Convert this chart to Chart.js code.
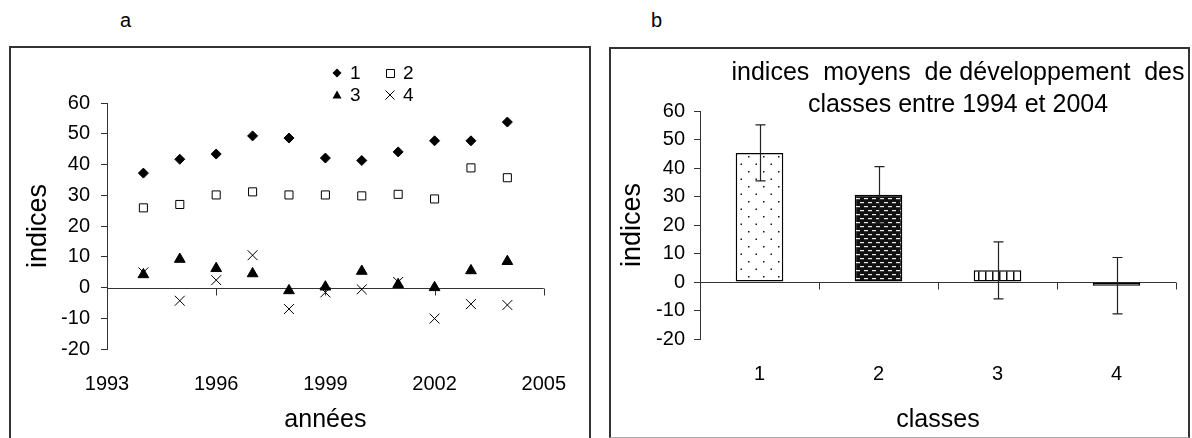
<!DOCTYPE html>
<html>
<head>
<meta charset="utf-8">
<script src="https://cdn.jsdelivr.net/npm/chart.js@4.4.1/dist/chart.umd.min.js"></script>
<style>
  body { margin: 0; background: #fff; width: 1192px; height: 438px; overflow: hidden; position: relative;
         font-family: 'Liberation Sans', Arial, sans-serif; }
  .frame { position: absolute; border: 2px solid #333; box-sizing: border-box; }
  #frameA { left: 9px; top: 46px; width: 582px; height: 400px; }
  #frameB { left: 609px; top: 47px; width: 581px; height: 391px; border-bottom: 1px solid #aaa; }
  .tag { position: absolute; font-size: 20px; line-height: 20px; top: 10px; }
  canvas { position: absolute; }
</style>
</head>
<body>
<div class="tag" style="left:120px">a</div>
<div class="tag" style="left:651px">b</div>
<div class="frame" id="frameA"></div>
<div class="frame" id="frameB"></div>
<canvas id="chartA" width="578" height="390" style="left:11px;top:48px"></canvas>
<canvas id="chartB" width="576" height="389" style="left:611px;top:49px"></canvas>

<script>
// --- data ---
const years = [1994, 1995, 1996, 1997, 1998, 1999, 2000, 2001, 2002, 2003, 2004];
const class1 = [37.2, 41.7, 43.4, 49.3, 48.6, 42.1, 41.3, 44.1, 47.7, 47.7, 53.8];
const class2 = [25.9, 27.0, 30.1, 31.1, 30.1, 30.1, 29.8, 30.3, 28.8, 38.9, 35.7];
const class3 = [4.2, 9.2, 6.2, 4.5, -1.0, 0.2, 5.3, 1.0, 0.0, 5.5, 8.5];
const class4 = [4.9, -4.3, 2.4, 10.5, -7.0, -1.6, -0.6, 1.8, -10.1, -5.4, -5.7];

const classLabels = ['1', '2', '3', '4'];
const meanIndices = [45.3, 30.6, 4.1, -1.3];
const meanErrors = [9.8, 9.9, 10.0, 9.9];

const titleLines = ['indices  moyens  de développement  des', 'classes entre 1994 et 2004'];

const FONT = "'Liberation Sans', Arial, sans-serif";
Chart.defaults.font.family = FONT;
Chart.defaults.color = '#000';
Chart.defaults.animation = false;
Chart.defaults.plugins.tooltip.enabled = false;
Chart.defaults.plugins.legend.display = false;

const toPoints = arr => arr.map((v, i) => ({ x: years[i], y: v }));

// fill patterns for the bars
function makePattern(kind) {
  const c = document.createElement('canvas');
  const g = c.getContext('2d');
  if (kind === 'dots') {
    c.width = 15; c.height = 15;
    g.fillStyle = '#fff'; g.fillRect(0, 0, 15, 15);
    g.fillStyle = '#111';
    g.fillRect(2, 2, 1.5, 1.5);
    g.fillRect(9.5, 9.5, 1.5, 1.5);
  } else if (kind === 'dark') {
    c.width = 8; c.height = 8;
    g.fillStyle = '#111'; g.fillRect(0, 0, 8, 8);
    g.fillStyle = '#eee';
    g.fillRect(1, 1, 4, 1.2);
    g.fillRect(5, 5, 4, 1.2);
    g.fillRect(-3, 5, 4, 1.2);
  } else if (kind === 'vlines') {
    c.width = 7; c.height = 4;
    g.fillStyle = '#fff'; g.fillRect(0, 0, 7, 4);
    g.fillStyle = '#111'; g.fillRect(3, 0, 1.5, 4);
  } else {
    c.width = 7; c.height = 4;
    g.fillStyle = '#fff'; g.fillRect(0, 0, 7, 4);
    g.fillStyle = '#444'; g.fillRect(2, 1, 2, 1);
  }
  return g.createPattern(c, 'repeat');
}

// horizontal axis drawn through y = 0, with tick marks hanging below
const zeroAxis = {
  id: 'zeroAxis',
  beforeDatasetsDraw(chart) {
    const { ctx, chartArea, scales: { x, y } } = chart;
    const y0 = Math.round(y.getPixelForValue(0)) + 0.5;
    let marks;
    if (x.type === 'category') {
      const half = (x.getPixelForValue(1) - x.getPixelForValue(0)) / 2;
      marks = [];
      for (let i = 0; i <= x.getLabels().length; i++) marks.push(x.getPixelForValue(i) - half);
    } else {
      marks = x.ticks.map(t => x.getPixelForValue(t.value));
    }
    ctx.save();
    ctx.strokeStyle = '#333';
    ctx.lineWidth = 1;
    ctx.beginPath();
    ctx.moveTo(chartArea.left, y0);
    ctx.lineTo(chartArea.right, y0);
    marks.forEach(px => {
      const xp = Math.round(px) + 0.5;
      ctx.moveTo(xp, y0);
      ctx.lineTo(xp, y0 + 7);
    });
    ctx.stroke();
    ctx.restore();
  }
};

// legend in two columns, like the original
function drawMarker(ctx, style, x, y, s) {
  ctx.beginPath();
  ctx.lineWidth = 1;
  ctx.strokeStyle = '#000';
  ctx.fillStyle = '#000';
  if (style === 'rectRot') {
    ctx.moveTo(x, y - s); ctx.lineTo(x + s, y); ctx.lineTo(x, y + s); ctx.lineTo(x - s, y);
    ctx.closePath(); ctx.fill();
  } else if (style === 'rect') {
    ctx.fillStyle = '#fff';
    ctx.rect(Math.round(x - s) + 0.5, Math.round(y - s) + 0.5, 2 * s - 1, 2 * s - 1);
    ctx.fill(); ctx.stroke();
  } else if (style === 'triangle') {
    ctx.moveTo(x, y - s); ctx.lineTo(x + s, y + s * 0.8); ctx.lineTo(x - s, y + s * 0.8);
    ctx.closePath(); ctx.fill();
  } else {
    ctx.moveTo(x - s, y - s); ctx.lineTo(x + s, y + s);
    ctx.moveTo(x + s, y - s); ctx.lineTo(x - s, y + s);
    ctx.stroke();
  }
}

const markerLegend = {
  id: 'markerLegend',
  afterDraw(chart, args, opts) {
    const { ctx } = chart;
    ctx.save();
    chart.data.datasets.forEach((ds, i) => {
      const mx = opts.x + (i % 2) * opts.colGap;
      const my = opts.y + Math.floor(i / 2) * opts.rowGap;
      drawMarker(ctx, ds.pointStyle, mx, my, opts.size);
      ctx.font = opts.fontSize + 'px ' + FONT;
      ctx.textBaseline = 'middle';
      ctx.fillStyle = '#000';
      ctx.fillText(ds.label, mx + opts.textGap, my + 1);
    });
    ctx.restore();
  }
};

// error bars on the bar chart
const errorBars = {
  id: 'errorBars',
  afterDatasetsDraw(chart) {
    const { ctx, scales: { y } } = chart;
    const ds = chart.data.datasets[0];
    ctx.save();
    ctx.strokeStyle = '#222';
    ctx.lineWidth = 1.2;
    chart.getDatasetMeta(0).data.forEach((bar, i) => {
      const v = ds.data[i], e = meanErrors[i];
      const yt = y.getPixelForValue(v + e), yb = y.getPixelForValue(v - e);
      const xc = Math.round(bar.x) + 0.5;
      ctx.beginPath();
      ctx.moveTo(xc, yt); ctx.lineTo(xc, yb);
      ctx.moveTo(xc - 5, yt); ctx.lineTo(xc + 5, yt);
      ctx.moveTo(xc - 5, yb); ctx.lineTo(xc + 5, yb);
      ctx.stroke();
    });
    ctx.restore();
  }
};

// two-line title, centred a little right of the plot
const sideTitle = {
  id: 'sideTitle',
  afterDraw(chart, args, opts) {
    const { ctx, chartArea } = chart;
    ctx.save();
    ctx.font = opts.fontSize + 'px ' + FONT;
    ctx.textAlign = 'center';
    ctx.textBaseline = 'middle';
    ctx.fillStyle = '#000';
    const cx = (chartArea.left + chartArea.right) / 2 + opts.shift;
    titleLines.forEach((t, i) => ctx.fillText(t, cx, opts.top + i * opts.lineGap));
    ctx.restore();
  }
};

function yAxis(width, pad, titlePad) {
  return {
    min: -20, max: 60,
    ticks: { stepSize: 10, font: { size: 20 }, padding: pad },
    grid: { drawOnChartArea: false, drawTicks: true, tickLength: 6, color: '#333' },
    border: { display: true, color: '#333', width: 1 },
    title: { display: true, text: 'indices', font: { size: 27 }, padding: { top: titlePad, bottom: 0 } },
    afterFit: s => { s.width = width; }
  };
}

new Chart(document.getElementById('chartA'), {
  type: 'scatter',
  data: {
    datasets: [
      { label: '1', data: toPoints(class1), pointStyle: 'rectRot', pointRadius: 5,
        backgroundColor: '#000', borderColor: '#000', borderWidth: 1 },
      { label: '2', data: toPoints(class2), pointStyle: 'rect', pointRadius: 5.7,
        backgroundColor: '#fff', borderColor: '#000', borderWidth: 1 },
      { label: '3', data: toPoints(class3), pointStyle: 'triangle', pointRadius: 6.2,
        backgroundColor: '#000', borderColor: '#000', borderWidth: 1 },
      { label: '4', data: toPoints(class4), pointStyle: 'crossRot', pointRadius: 7,
        backgroundColor: '#000', borderColor: '#000', borderWidth: 1 }
    ]
  },
  options: {
    responsive: false,
    devicePixelRatio: 1,
    layout: { padding: { top: 55, right: 38, left: 0, bottom: 0 } },
    scales: {
      x: {
        type: 'linear', min: 1993, max: 2005,
        ticks: { stepSize: 3, font: { size: 20 }, padding: 23, callback: v => String(v) },
        grid: { display: false, drawTicks: false },
        border: { display: false },
        title: { display: true, text: 'années', font: { size: 25 }, padding: { top: 4, bottom: 3 } },
        afterFit: s => { s.height = 89; }
      },
      y: yAxis(96, 11, 11)
    },
    plugins: {
      markerLegend: { x: 326, y: 25, colGap: 53, rowGap: 22, textGap: 13, size: 4.5, fontSize: 19 }
    }
  },
  plugins: [zeroAxis, markerLegend]
});

new Chart(document.getElementById('chartB'), {
  type: 'bar',
  data: {
    labels: classLabels,
    datasets: [{
      label: 'indices moyens',
      data: meanIndices,
      backgroundColor: [makePattern('dots'), makePattern('dark'), makePattern('vlines'), makePattern('dash')],
      borderColor: '#000',
      borderWidth: 1.5,
      borderSkipped: false,
      barPercentage: 0.4,
      categoryPercentage: 1
    }]
  },
  options: {
    responsive: false,
    devicePixelRatio: 1,
    layout: { padding: { top: 62, right: 11, left: 0, bottom: 0 } },
    scales: {
      x: {
        ticks: { font: { size: 20 }, padding: 23 },
        grid: { display: false, drawTicks: false },
        border: { display: false },
        title: { display: true, text: 'classes', font: { size: 25 }, padding: { top: 4, bottom: 3 } },
        afterFit: s => { s.height = 99; }
      },
      y: yAxis(89, 9, 5)
    },
    plugins: {
      sideTitle: { fontSize: 25, shift: 20, top: 24, lineGap: 32 }
    }
  },
  plugins: [zeroAxis, errorBars, sideTitle]
});
</script>
</body>
</html>
